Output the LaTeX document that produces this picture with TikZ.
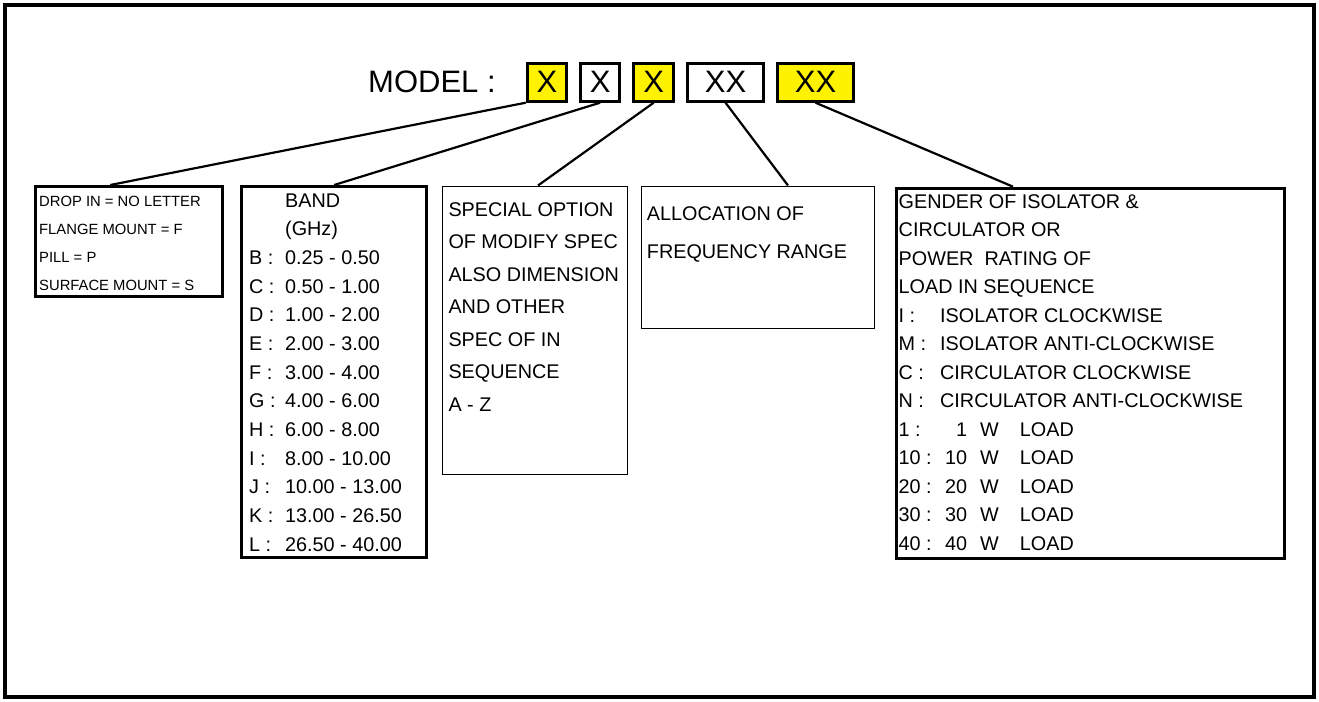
\documentclass[tikz,border=0pt]{standalone}
\usepackage{fontspec}
\setmainfont{Liberation Sans}
\usetikzlibrary{positioning}

\newcommand{\setfs}[1]{\fontsize{#1}{#1}\selectfont}

\begin{document}
\begin{tikzpicture}[
		x=1pt, y=-1pt,
		letter/.style={draw, line width=3pt, minimum height=38pt, minimum width=39.6pt, inner sep=0pt, font=\setfs{31}},
		wideletter/.style={letter, minimum width=76pt},
		hi/.style={fill=yellow},
		heavy/.style={draw, line width=3pt, anchor=north west, inner sep=0pt},
		light/.style={draw, line width=1.2pt, anchor=north west, inner sep=0pt},
		txt/.style={anchor=base west, inner sep=0pt, font=\setfs{19.8}},
		small/.style={txt, font=\setfs{14.8}},
		wire/.style={line width=2.2pt}]
		\useasboundingbox (0,0) rectangle (1319,701);
		\draw[line width=4.5pt] (5,5) rectangle (1314,697);
		
		% model code
		\node[anchor=base west, inner sep=0pt, font=\setfs{31}] (model) at (368,92.7) {MODEL :};
		\node[letter, hi] (m1) at (547,82.2) {X};
		\node[letter, right=10.5pt of m1] (m2) {X};
		\node[letter, hi, right=11pt of m2] (m3) {X};
		\node[wideletter, right=11pt of m3] (m4) {XX};
		\node[wideletter, hi, right=11pt of m4] (m5) {XX};
		
		% boxes
		\node[heavy, minimum width=186.7pt, minimum height=110pt] (drop) at (34.3,185) {};
		\node[heavy, minimum width=185.3pt, minimum height=371.3pt] (band) at (240,185) {};
		\node[light, minimum width=184.8pt, minimum height=288.3pt] (spec) at (442,185.5) {};
		\node[light, minimum width=233.4pt, minimum height=142.3pt] (alloc) at (640.7,185.5) {};
		\node[heavy, minimum width=388pt, minimum height=370.3pt] (gender) at (895,186.7) {};
		
		\foreach \t [count=\i from 0] in {DROP IN = NO LETTER, FLANGE MOUNT = F, PILL = P, SURFACE MOUNT = S}
			\node[small] (drop-\i) at (39,206+28.3*\i) {\t};
		
		\node[txt] (band-0) at (285,207) {BAND};
		\node[txt] (band-1) at (285,235.7) {(GHz)};
		\foreach \key/\val [count=\i from 2] in {B/0.25 - 0.50, C/0.50 - 1.00, D/1.00 - 2.00, E/2.00 - 3.00, F/3.00 - 4.00, G/4.00 - 6.00, H/6.00 - 8.00, I/8.00 - 10.00, J/10.00 - 13.00, K/13.00 - 26.50, L/26.50 - 40.00}
			\node[txt] (band-\i) at (249,207+28.67*\i) {\makebox[36pt][l]{\key\ :}\val};
		
		\foreach \t [count=\i from 0] in {SPECIAL OPTION, OF MODIFY SPEC, ALSO DIMENSION, AND OTHER, SPEC OF IN, SEQUENCE, A - Z}
			\node[txt] (spec-\i) at (448.3,216+32.5*\i) {\t};
		
		\node[txt] (alloc-0) at (646.7,220) {ALLOCATION OF};
		\node[txt] (alloc-1) at (646.7,258.3) {FREQUENCY RANGE};
		
		\foreach \t [count=\i from 0] in {GENDER OF ISOLATOR \&, CIRCULATOR OR, POWER\ \ RATING OF, LOAD IN SEQUENCE}
			\node[txt] (gender-\i) at (898.5,208+28.5*\i) {\t};
		\foreach \key/\val [count=\i from 4] in {I/ISOLATOR CLOCKWISE, M/ISOLATOR ANTI-CLOCKWISE, C/CIRCULATOR CLOCKWISE, N/CIRCULATOR ANTI-CLOCKWISE}
			\node[txt] (gender-\i) at (898.5,208+28.5*\i) {\makebox[41.5pt][l]{\key\ :}\val};
		\foreach \w [count=\i from 8] in {1, 10, 20, 30, 40}
			\node[txt] (gender-\i) at (898.5,208+28.5*\i) {\makebox[41.5pt][l]{\w\ :}\makebox[27pt][r]{\w}\hspace{13pt}W\hspace{21pt}LOAD};
		
		% connectors
		\draw[wire] (m1.south west) -- ([xshift=76pt]drop.north west);
		\draw[wire] (m2.south) -- (band.north);
		\draw[wire] (m3.south) -- ([xshift=3pt]spec.north);
		\draw[wire] (m4.south) -- ([xshift=30pt]alloc.north);
		\draw[wire] (m5.south) -- ([xshift=118pt]gender.north west);
	\end{tikzpicture}
\end{document}
